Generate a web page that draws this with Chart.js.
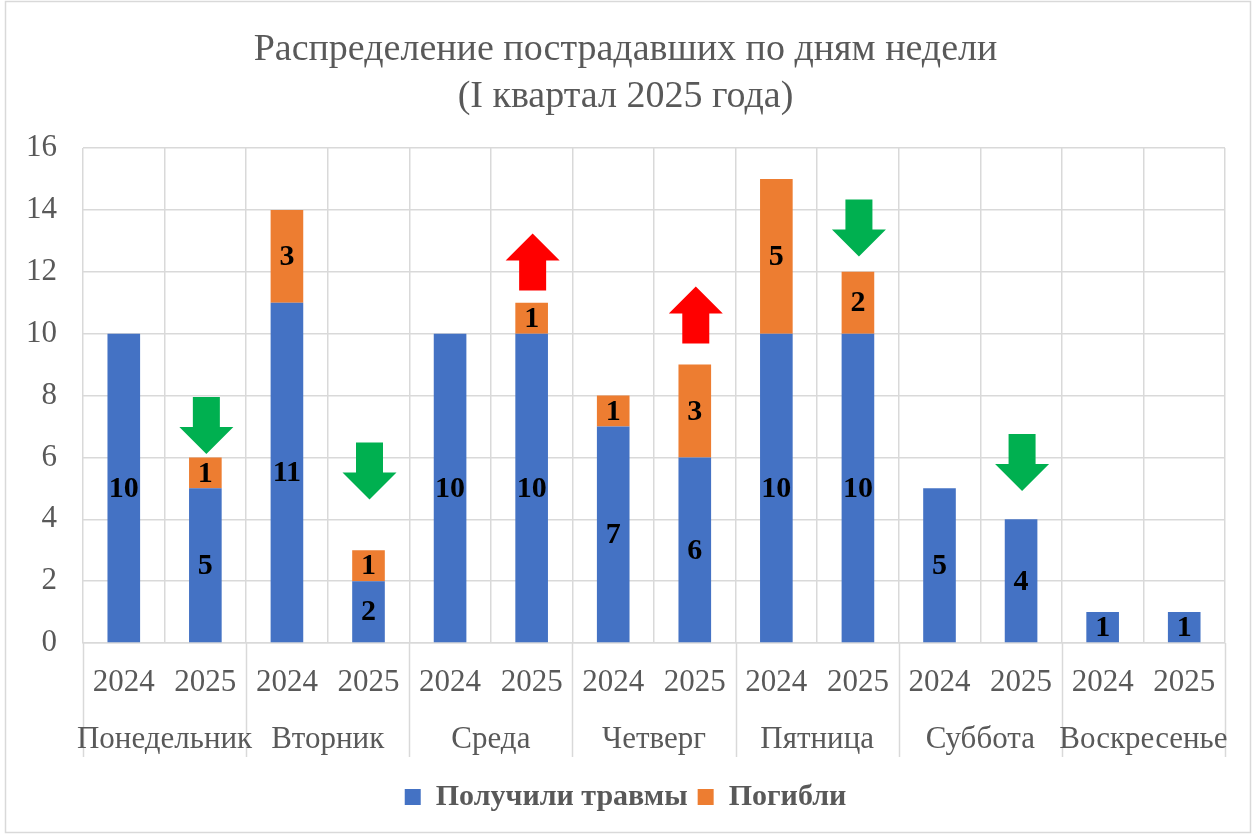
<!DOCTYPE html>
<html><head><meta charset="utf-8">
<script src="https://cdn.jsdelivr.net/npm/chart.js@4/dist/chart.umd.min.js"></script>
</head><body style="margin:0">
<canvas id="c" width="1259" height="834"></canvas>
<script>
const days = ['Понедельник', 'Вторник', 'Среда', 'Четверг', 'Пятница', 'Суббота', 'Воскресенье'];
const years = ['2024', '2025'];
const injured = [10, 5, 11, 2, 10, 10, 7, 6, 10, 10, 5, 4, 1, 1];
const killed  = [0, 1, 3, 1, 0, 1, 1, 3, 5, 2, 0, 0, 0, 0];
const yTicks = [0, 2, 4, 6, 8, 10, 12, 14, 16];

// change arrows (annotation): category index, direction, tip value in data units
const arrowIndex = [1, 3, 5, 7, 9, 11];
const arrowDir   = ['down', 'down', 'up', 'up', 'down', 'down'];
const arrowTip   = [6.11, 4.64, 13.24, 11.52, 12.49, 4.91];

const FONT = '"Times New Roman"';
const TXT = '#595959';
const GRID = '#d9d9d9';
Chart.defaults.font.family = FONT;

const labels = [];
days.forEach(() => years.forEach(y => labels.push(y)));

const frame = {
  id: 'frame',
  beforeDraw(chart) {
    const ctx = chart.ctx;
    ctx.save();
    ctx.fillStyle = '#ffffff';
    ctx.fillRect(0, 0, chart.width, chart.height);
    ctx.strokeStyle = GRID;
    ctx.lineWidth = 1.5;
    ctx.strokeRect(5.5, 1.5, chart.width - 14, chart.height - 3);
    ctx.restore();
  }
};

const groups = {
  id: 'groups',
  afterDraw(chart) {
    const ctx = chart.ctx;
    const x = chart.scales.x;
    const area = chart.chartArea;
    const step = x.getPixelForValue(1) - x.getPixelForValue(0);
    ctx.save();
    ctx.strokeStyle = GRID;
    ctx.lineWidth = 1.5;
    for (let g = 0; g <= days.length; g++) {
      const px = Math.round(x.getPixelForValue(g * 2) - step / 2) + 0.5;
      ctx.beginPath();
      ctx.moveTo(px, area.bottom);
      ctx.lineTo(px, area.bottom + 114);
      ctx.stroke();
    }
    ctx.fillStyle = TXT;
    ctx.font = '31px ' + FONT;
    ctx.textAlign = 'center';
    ctx.textBaseline = 'middle';
    days.forEach((d, g) => {
      const cx = (x.getPixelForValue(g * 2) + x.getPixelForValue(g * 2 + 1)) / 2;
      ctx.fillText(d, cx, area.bottom + 97);
    });
    ctx.restore();
  }
};

const valueLabels = {
  id: 'valueLabels',
  afterDatasetsDraw(chart) {
    const ctx = chart.ctx;
    ctx.save();
    ctx.fillStyle = '#000000';
    ctx.font = 'bold 30px ' + FONT;
    ctx.textAlign = 'center';
    ctx.textBaseline = 'middle';
    chart.data.datasets.forEach((ds, di) => {
      const meta = chart.getDatasetMeta(di);
      meta.data.forEach((el, i) => {
        const v = ds.data[i];
        if (!v) return;
        ctx.fillText(String(v), el.x, (el.y + el.base) / 2 + 1);
      });
    });
    ctx.restore();
  }
};

const arrows = {
  id: 'arrows',
  afterDatasetsDraw(chart) {
    const ctx = chart.ctx;
    const x = chart.scales.x, y = chart.scales.y;
    const H = 57, headH = 27, headW = 54, shaftW = 27;
    ctx.save();
    arrowIndex.forEach((idx, k) => {
      const cx = x.getPixelForValue(idx) + 1;
      const tip = y.getPixelForValue(arrowTip[k]);
      const s = arrowDir[k] === 'down' ? -1 : 1;
      ctx.fillStyle = arrowDir[k] === 'down' ? '#00B050' : '#FF0000';
      ctx.beginPath();
      ctx.moveTo(cx, tip);
      ctx.lineTo(cx + headW / 2, tip + s * headH);
      ctx.lineTo(cx + shaftW / 2, tip + s * headH);
      ctx.lineTo(cx + shaftW / 2, tip + s * H);
      ctx.lineTo(cx - shaftW / 2, tip + s * H);
      ctx.lineTo(cx - shaftW / 2, tip + s * headH);
      ctx.lineTo(cx - headW / 2, tip + s * headH);
      ctx.closePath();
      ctx.fill();
    });
    ctx.restore();
  }
};

new Chart(document.getElementById('c'), {
  type: 'bar',
  data: {
    labels: labels,
    datasets: [
      { label: 'Получили травмы', data: injured, backgroundColor: '#4472C4', barPercentage: 0.4, categoryPercentage: 1 },
      { label: 'Погибли', data: killed, backgroundColor: '#ED7D31', barPercentage: 0.4, categoryPercentage: 1 }
    ]
  },
  options: {
    responsive: false,
    animation: false,
    layout: { padding: { left: 26, right: 34, top: 10, bottom: 12 } },
    scales: {
      x: {
        stacked: true,
        grid: { color: GRID, lineWidth: 1.5, offset: true, drawTicks: false },
        border: { color: GRID, width: 1.5 },
        ticks: { color: TXT, font: { family: FONT, size: 31 }, padding: 21, maxRotation: 0, autoSkip: false },
        afterFit(scale) { scale.height = 129; }
      },
      y: {
        stacked: true,
        min: 0, max: 16,
        afterBuildTicks(scale) { scale.ticks = yTicks.map(v => ({ value: v })); },
        grid: { color: GRID, lineWidth: 1.5, drawTicks: false },
        border: { display: false },
        ticks: { color: TXT, font: { family: FONT, size: 31 }, padding: 26 },
        afterFit(scale) { scale.width = 57; }
      }
    },
    plugins: {
      title: {
        display: true,
        text: ['Распределение пострадавших по дням недели', '(I квартал 2025 года)'],
        color: TXT,
        font: { family: FONT, size: 38, weight: 'normal', lineHeight: 1.25 },
        padding: { top: 16, bottom: 27 }
      },
      legend: {
        position: 'bottom',
        labels: {
          color: TXT,
          boxWidth: 16, boxHeight: 16,
          padding: 10,
          font: { family: FONT, size: 30, weight: 'bold' }
        }
      },
      tooltip: { enabled: false }
    }
  },
  plugins: [frame, groups, valueLabels, arrows]
});
</script></body></html>
